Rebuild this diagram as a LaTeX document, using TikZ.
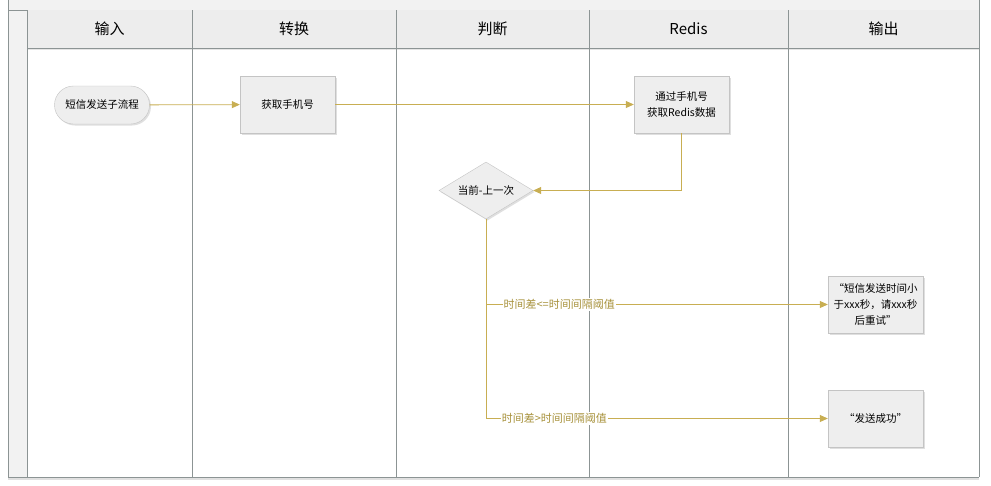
\documentclass[tikz,border=0pt]{standalone}
\usepackage{fontspec}
\setmainfont{Noto Sans CJK SC}
\usetikzlibrary{shapes.geometric,shadows,arrows.meta}
\definecolor{laneline}{RGB}{140,148,148}
\definecolor{headfill}{RGB}{237,237,237}
\definecolor{outerfill}{RGB}{242,242,242}
\definecolor{boxfill}{RGB}{238,238,238}
\definecolor{boxline}{RGB}{196,196,196}
\definecolor{flowcol}{RGB}{200,174,82}
\definecolor{lblcol}{RGB}{168,146,60}
\tikzset{
  lanebox/.style={draw=laneline, line width=0.8pt},
  headtext/.style={font=\fontsize{15}{18}\selectfont, text=black},
  procbox/.style={draw=boxline, fill=boxfill, minimum width=95pt, minimum height=57pt,
    align=center, font=\fontsize{10.5}{16}\selectfont, inner sep=2pt,
    drop shadow={shadow xshift=1.5pt, shadow yshift=-1.5pt, opacity=0.25}},
  termbox/.style={draw=boxline, fill=boxfill, rounded corners=19pt, minimum width=95pt,
    minimum height=38pt, font=\fontsize{10.5}{13}\selectfont,
    drop shadow={shadow xshift=1.5pt, shadow yshift=-1.5pt, opacity=0.25}},
  decbox/.style={diamond, aspect=1.65, draw=boxline, fill=boxfill, minimum width=94pt, minimum height=57pt,
    inner sep=0pt, font=\fontsize{10.5}{13}\selectfont,
    drop shadow={shadow xshift=1.5pt, shadow yshift=-1.5pt, opacity=0.25}},
  flow/.style={draw=flowcol, line width=0.8pt, -{Triangle[length=8pt,width=7pt]}},
  lbl/.style={fill=white, text=lblcol, font=\fontsize{11}{13}\selectfont, inner sep=1pt}
}
\begin{document}
\begin{tikzpicture}[x=1pt,y=-1pt]
\useasboundingbox (0,0) rectangle (991,485);
\fill[white] (0,0) rectangle (991,485);
% outer container
\fill[outerfill] (8,0) rectangle (979,477);
\fill[black!12] (8,477) rectangle (979,480);
\draw[lanebox] (8,0) -- (8,477);
\draw[lanebox] (8,10) -- (979,10);
% header band
\fill[headfill] (27,10) rectangle (979,48);
\fill[white] (27,48) rectangle (979,477);
\fill[black!10] (27,48) rectangle (979,50);
\draw[lanebox] (27,48) -- (979,48);
\draw[lanebox] (27,10) -- (27,477);
\foreach \xx in {192,396,589,788} {\draw[lanebox] (\xx,10) -- (\xx,477);}
\draw[lanebox] (979,0) -- (979,477);
\draw[lanebox] (8,477) -- (979,477);
% header labels
\node[headtext] (h1) at (109.5,29) {输入};
\node[headtext] (h2) at (294,29) {转换};
\node[headtext] (h3) at (492.5,29) {判断};
\node[headtext] (h4) at (688.5,29) {Redis};
\node[headtext] (h5) at (883.5,29) {输出};
% nodes
\node[termbox] (start) at (102,105) {短信发送子流程};
\node[procbox] (get) at (287.5,104.5) {获取手机号};
\node[procbox] (redis) at (681.5,104.5) {通过手机号\\获取Redis数据};
\node[decbox] (diam) at (486,190.5) {当前-上一次};
\node[procbox] (msg1) at (875.5,304.5) {“短信发送时间小\\于xxx秒，请xxx秒\\后重试"};
\node[procbox] (msg2) at (875.5,418.5) {“发送成功"};
% connectors
\draw[flow] (start) -- (get);
\draw[flow] (get.east) -- (get.east -| redis.west);
\draw[flow] (redis.south) |- (diam.east);
\draw[flow] (diam.south) |- node[lbl, pos=0.607] {时间差<=时间间隔阈值} (msg1.west);
\draw[flow] (diam.south) |- node[lbl, pos=0.6] {时间差>时间间隔阈值} (msg2.west);
\end{tikzpicture}
\end{document}
